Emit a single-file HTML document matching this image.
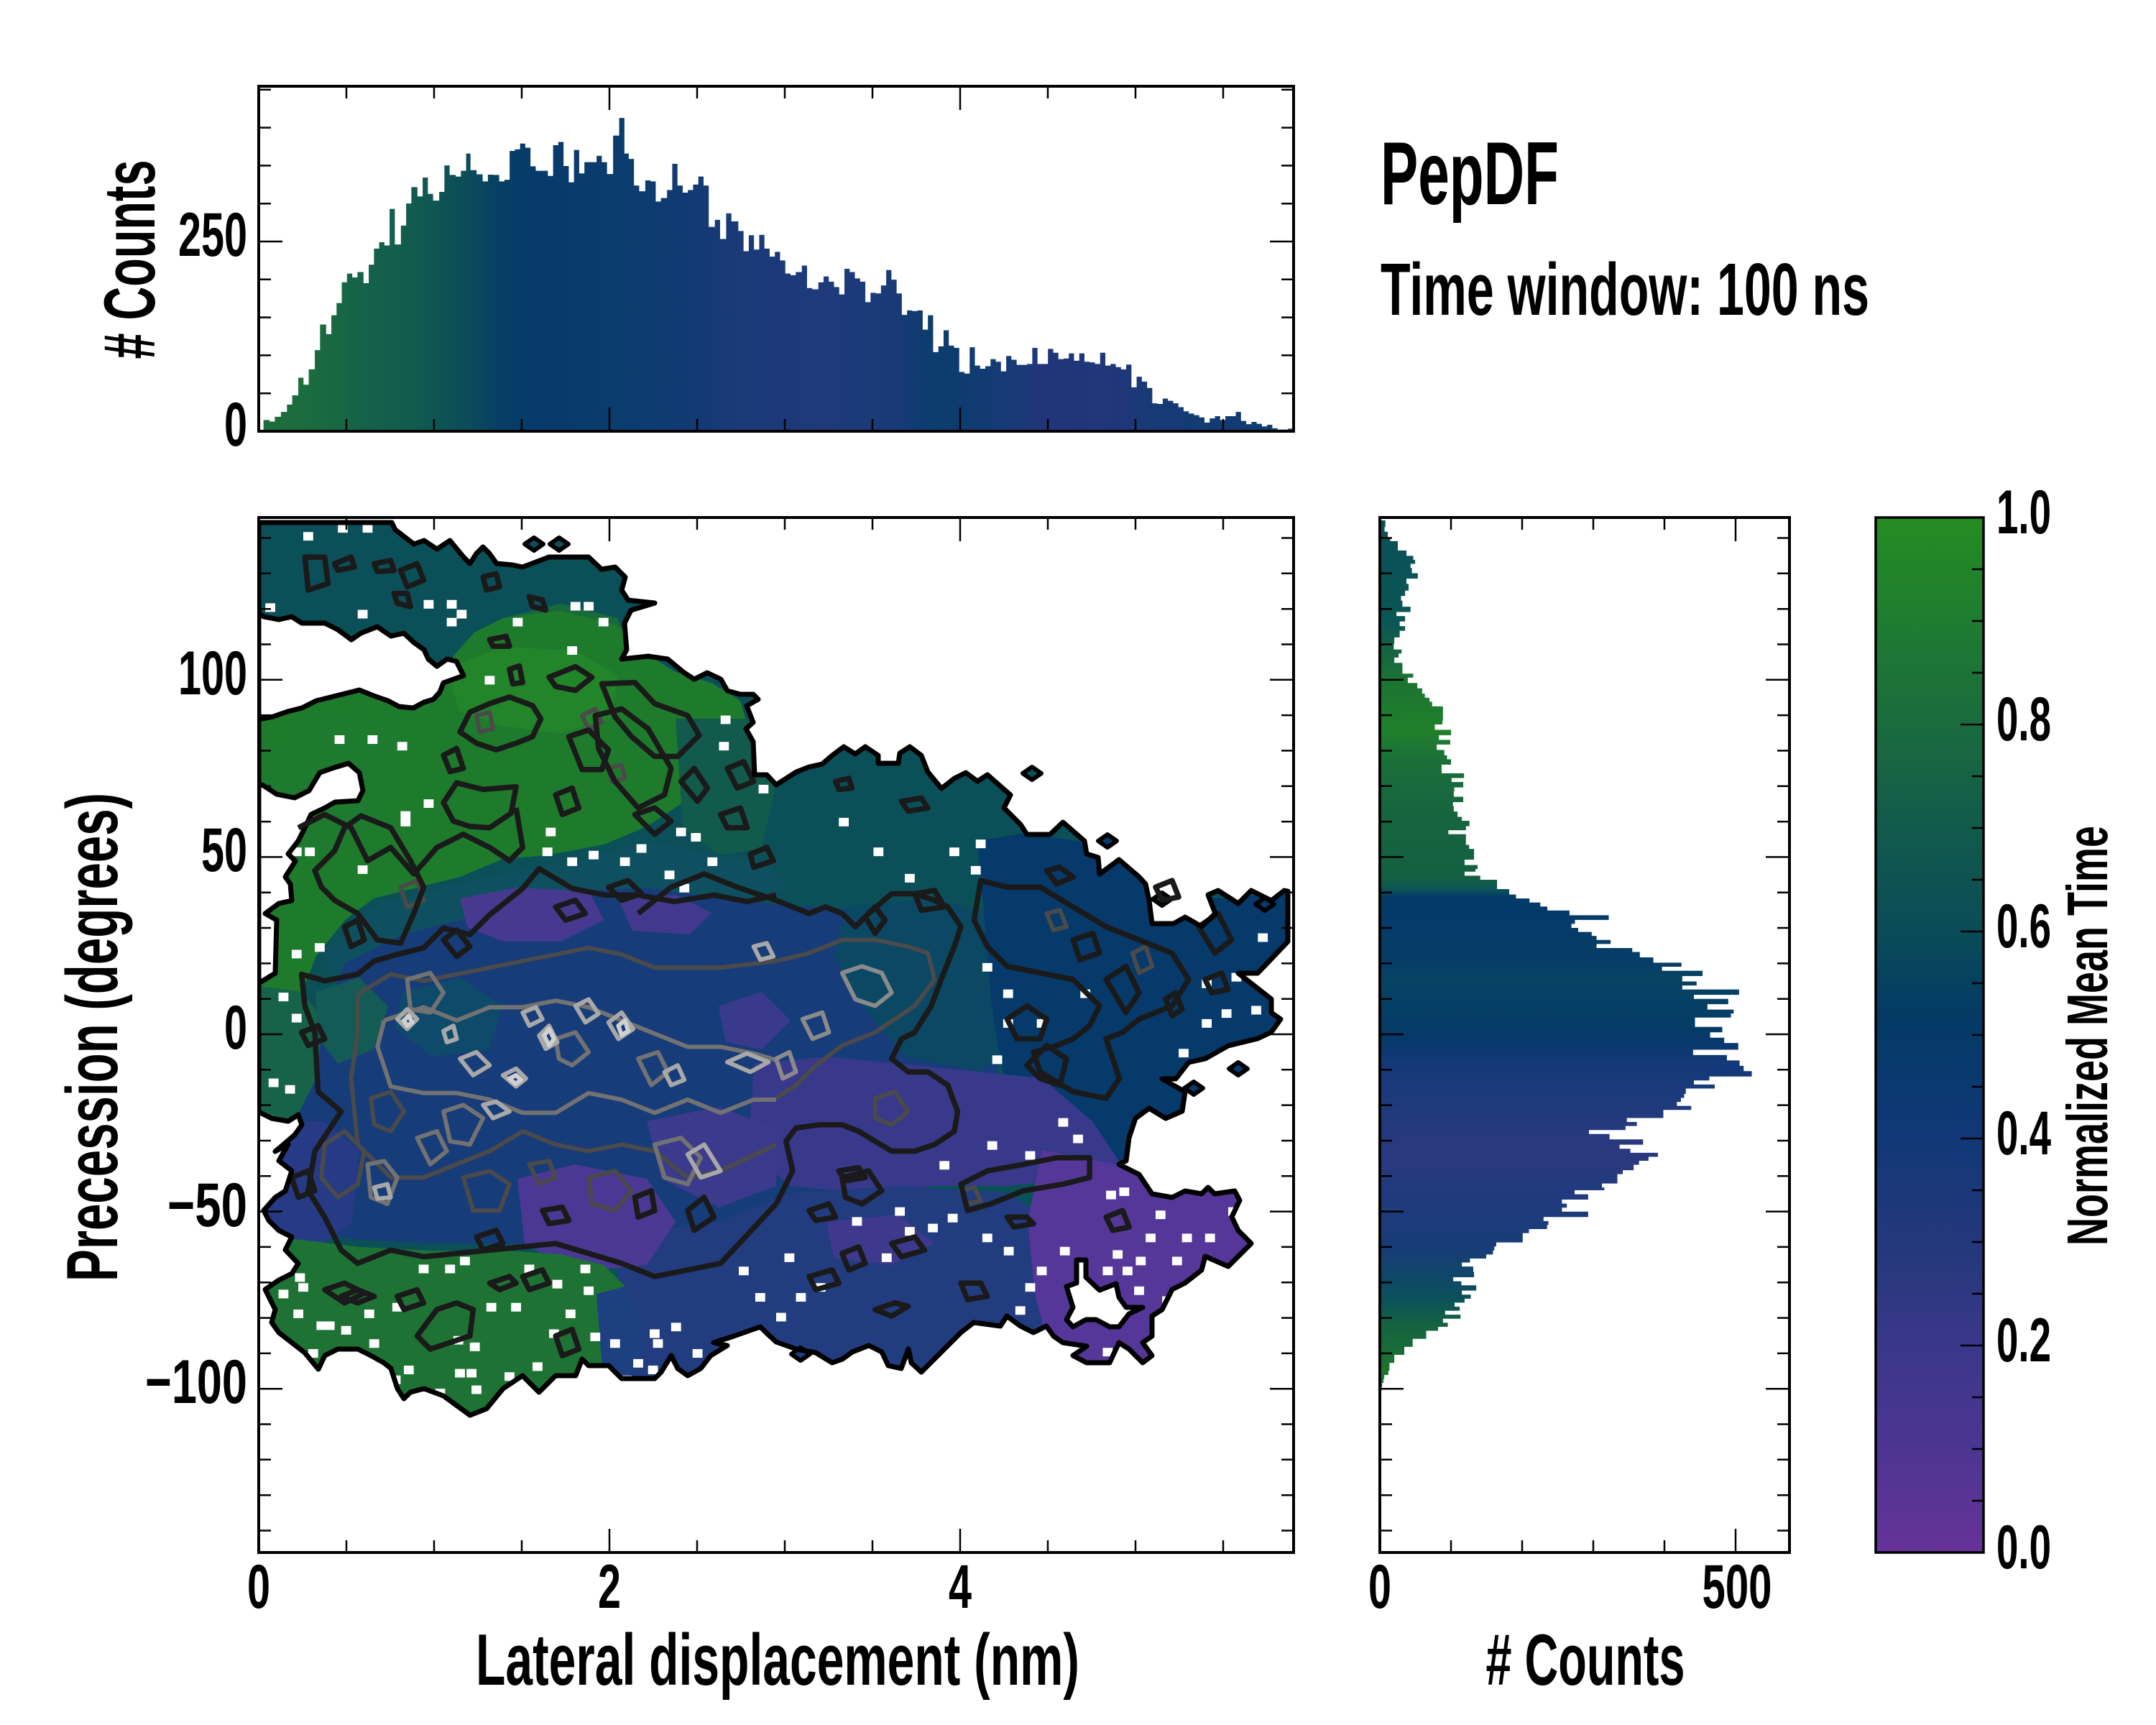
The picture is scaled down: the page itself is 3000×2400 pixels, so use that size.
<!DOCTYPE html>
<html><head><meta charset="utf-8">
<style>
html,body{margin:0;padding:0;background:#fff;}
svg{display:block;}
text{font-family:"Liberation Sans Narrow","Liberation Sans","DejaVu Sans",sans-serif;font-weight:bold;fill:#000;}
.c path{vector-effect:non-scaling-stroke;fill:none;stroke-linejoin:round;}
</style></head><body>
<svg xmlns="http://www.w3.org/2000/svg" width="3000" height="2400" viewBox="0 0 3000 2400">
<defs>
<linearGradient id="gTop" gradientUnits="userSpaceOnUse" x1="297" y1="0" x2="1487" y2="0">
<stop offset="0" stop-color="#1e6e3b"/><stop offset="0.053" stop-color="#1a6b3e"/><stop offset="0.103" stop-color="#15624a"/>
<stop offset="0.154" stop-color="#115a4f"/><stop offset="0.196" stop-color="#0c4e58"/><stop offset="0.234" stop-color="#063f66"/>
<stop offset="0.271" stop-color="#073a6b"/><stop offset="0.355" stop-color="#0b3c6e"/><stop offset="0.423" stop-color="#123a73"/>
<stop offset="0.465" stop-color="#1a3a78"/><stop offset="0.549" stop-color="#1e3a7b"/><stop offset="0.616" stop-color="#183a76"/>
<stop offset="0.65" stop-color="#0b3d6d"/><stop offset="0.683" stop-color="#0f3c70"/><stop offset="0.725" stop-color="#173a76"/>
<stop offset="0.759" stop-color="#213679"/><stop offset="0.834" stop-color="#1f377a"/><stop offset="0.86" stop-color="#173a75"/>
<stop offset="0.927" stop-color="#133b72"/><stop offset="1" stop-color="#0d3c70"/>
</linearGradient>
<linearGradient id="gRight" gradientUnits="userSpaceOnUse" x1="0" y1="15" x2="0" y2="1316">
<stop offset="0" stop-color="#0a4f58"/><stop offset="0.119" stop-color="#0b5656"/><stop offset="0.142" stop-color="#136046"/>
<stop offset="0.188" stop-color="#1c7532"/><stop offset="0.242" stop-color="#207f2b"/><stop offset="0.28" stop-color="#1a6e3a"/>
<stop offset="0.334" stop-color="#17653f"/><stop offset="0.411" stop-color="#146042"/><stop offset="0.423" stop-color="#0c5556"/>
<stop offset="0.433" stop-color="#043a68"/><stop offset="0.503" stop-color="#053c68"/><stop offset="0.527" stop-color="#074363"/>
<stop offset="0.573" stop-color="#053d66"/><stop offset="0.596" stop-color="#06396b"/><stop offset="0.626" stop-color="#14397a"/>
<stop offset="0.68" stop-color="#203a7c"/><stop offset="0.726" stop-color="#2c3880"/><stop offset="0.765" stop-color="#223a7e"/>
<stop offset="0.834" stop-color="#173c78"/><stop offset="0.872" stop-color="#0f4868"/><stop offset="0.895" stop-color="#0c515a"/>
<stop offset="0.926" stop-color="#156340"/><stop offset="0.972" stop-color="#1d7332"/><stop offset="1" stop-color="#1f7a2e"/>
</linearGradient>
<linearGradient id="gCb" x1="0" y1="0" x2="0" y2="1">
<stop offset="0" stop-color="#248c22"/><stop offset="0.1" stop-color="#1f7c30"/><stop offset="0.2" stop-color="#1a6b3e"/>
<stop offset="0.3" stop-color="#125a4c"/><stop offset="0.4" stop-color="#0a4c58"/><stop offset="0.484" stop-color="#033a66"/>
<stop offset="0.6" stop-color="#113878"/><stop offset="0.72" stop-color="#27387c"/><stop offset="0.8" stop-color="#3a378a"/>
<stop offset="0.9" stop-color="#4d3592"/><stop offset="1" stop-color="#66329a"/>
</linearGradient>
<clipPath id="axClip"><rect x="360" y="720" width="1440" height="1440"/></clipPath>
<clipPath id="shapeClip"><polygon id="outlineP" points="360,727 545,727 550,737 576,757 590,752 608,764 626,752 645,775 654,784 663,770 672,761 681,770 691,784 713,786 727,789 764,775 819,775 837,792 856,789 870,803 865,821 874,835 911,839 878,849 869,867 872,904 865,917 902,913 929,917 952,936 966,945 984,936 1003,945 1012,961 1030,966 1048,966 1055,973 1039,982 1048,1005 1038,1014 1048,1032 1050,1078 1067,1078 1080,1092 1094,1083 1108,1074 1126,1067 1144,1063 1158,1051 1174,1039 1190,1049 1204,1039 1222,1051 1222,1062 1250,1062 1252,1048 1266,1039 1282,1051 1291,1074 1310,1097 1328,1083 1344,1075 1360,1087 1374,1078 1406,1106 1397,1124 1420,1147 1429,1161 1461,1161 1479,1144 1509,1170 1512,1188 1528,1193 1530,1216 1557,1196 1585,1220 1594,1230 1599,1253 1603,1285 1633,1285 1649,1276 1672,1289 1691,1271 1681,1245 1695,1239 1723,1257 1741,1239 1769,1253 1787,1239 1792,1240 1792,1310 1750,1354 1723,1354 1769,1390 1769,1409 1782,1418 1769,1436 1750,1445 1709,1455 1677,1473 1654,1478 1636,1501 1617,1501 1649,1519 1645,1546 1622,1556 1599,1542 1580,1556 1571,1583 1567,1615 1557,1620 1585,1634 1603,1661 1631,1666 1649,1657 1672,1661 1681,1652 1690,1661 1718,1657 1725,1670 1714,1693 1723,1712 1741,1730 1727,1744 1709,1762 1677,1748 1672,1767 1649,1785 1631,1794 1617,1822 1603,1831 1603,1859 1590,1868 1603,1886 1590,1896 1571,1877 1557,1868 1544,1896 1512,1896 1493,1886 1512,1873 1479,1868 1466,1859 1456,1845 1438,1854 1420,1845 1401,1831 1392,1845 1355,1840 1337,1854 1319,1872 1300,1891 1282,1909 1268,1896 1264,1877 1254,1904 1236,1900 1227,1881 1209,1872 1186,1881 1172,1891 1158,1896 1135,1882 1108,1877 1080,1867 1067,1855 1058,1846 1021,1859 993,1868 1012,1872 989,1886 975,1904 957,1914 943,1904 934,1886 920,1909 911,1918 865,1918 847,1900 819,1900 810,1891 801,1914 773,1914 750,1937 727,1914 700,1932 677,1960 654,1969 617,1942 590,1932 571,1937 562,1946 553,1932 544,1904 534,1896 516,1886 498,1877 470,1877 452,1886 443,1905 424,1882 406,1868 388,1854 378,1840 383,1822 369,1794 388,1781 406,1772 415,1758 397,1739 406,1721 388,1712 374,1698 367,1684 383,1666 397,1657 406,1629 388,1615 401,1592 383,1602 410,1579 420,1565 415,1551 401,1560 378,1556 360,1547"/></clipPath>
</defs>

<rect x="0" y="0" width="3000" height="2400" fill="#fff"/>

<!-- ===== TOP HISTOGRAM ===== -->
<g transform="matrix(1.2101 0 0 0.4456 0 0.58)">
<path fill="url(#gTop)" d="M297 1345 H303 V1310 H310 V1315 H316 V1300 H323 V1285 H330 V1262 H336 V1233 H343 V1178 H349 V1200 H355 V1152 H362 V1092 H368 V1012 H375 V1042 H381 V983 H387 V945 H393 V880 H399 V853 H405 V865 H411 V848 H418 V883 H424 V825 H430 V775 H436 V755 H442 V765 H448 V651 H454 V762 H461 V703 H467 V634 H473 V583 H480 V612 H486 V553 H492 V604 H498 V625 H505 V598 H511 V515 H517 V545 H524 V550 H530 V532 H536 V478 H541 V530 H548 V543 H555 V565 H561 V544 H567 V545 H574 V565 H580 V560 H586 V470 H592 V465 H598 V447 H604 V460 H610 V518 H616 V532 H622 V532 H630 V548 H636 V452 H642 V442 H648 V517 H654 V568 H660 V467 H666 V540 H672 V505 H678 V505 H686 V485 H692 V505 H698 V542 H705 V422 H712 V367 H718 V478 H723 V495 H729 V578 H735 V596 H742 V562 H748 V565 H754 V628 H760 V617 H767 V592 H773 V510 H779 V578 H785 V600 H791 V592 H797 V575 H803 V550 H809 V578 H815 V707 H822 V685 H828 V745 H835 V665 H841 V690 H849 V720 H855 V783 H861 V733 H867 V778 H873 V732 H879 V775 H885 V800 H891 V785 H897 V812 H903 V853 H909 V858 H915 V848 H922 V828 H928 V898 H934 V902 H941 V880 H947 V862 H953 V878 H959 V895 H965 V918 H971 V838 H977 V848 H983 V868 H989 V878 H995 V942 H1001 V913 H1007 V915 H1013 V890 H1019 V842 H1025 V872 H1031 V915 H1037 V982 H1043 V968 H1049 V970 H1055 V968 H1061 V1028 H1067 V983 H1073 V1098 H1079 V1080 H1085 V1030 H1091 V1078 H1097 V1085 H1103 V1160 H1109 V1165 H1115 V1083 H1121 V1140 H1127 V1150 H1133 V1142 H1139 V1120 H1145 V1128 H1151 V1158 H1157 V1110 H1163 V1122 H1169 V1138 H1175 V1138 H1181 V1135 H1187 V1085 H1193 V1135 H1199 V1135 H1205 V1088 H1211 V1100 H1217 V1120 H1223 V1118 H1229 V1102 H1235 V1125 H1241 V1102 H1247 V1128 H1253 V1130 H1259 V1135 H1265 V1100 H1271 V1140 H1277 V1135 H1283 V1145 H1289 V1152 H1295 V1137 H1301 V1208 H1307 V1175 H1313 V1190 H1319 V1210 H1325 V1258 H1331 V1260 H1337 V1243 H1343 V1250 H1349 V1258 H1355 V1270 H1361 V1283 H1367 V1290 H1373 V1295 H1379 V1302 H1385 V1318 H1391 V1305 H1397 V1298 H1403 V1310 H1409 V1298 H1415 V1298 H1421 V1285 H1427 V1313 H1433 V1323 H1439 V1316 H1445 V1322 H1451 V1330 H1457 V1325 H1463 V1336 H1469 V1340 H1475 V1340 H1481 V1337 H1487 V1345 Z"/>
</g>

<!-- ===== RIGHT HISTOGRAM ===== -->
<g transform="matrix(0.37628 0 0 0.9311 1910 710)">
<path fill="url(#gRight)" d="M27 15 H47 V25 H44 V32 H56 V40 H65 V46 H93 V52 H93 V60 H125 V68 H150 V74 H157 V80 H140 V86 H145 V94 H167 V102 H125 V110 H133 V120 H120 V128 H105 V135 H110 V144 H140 V152 H88 V158 H120 V166 H100 V173 H120 V180 H100 V190 H80 V200 H78 V208 H107 V214 H96 V220 H80 V228 H110 V236 H110 V244 H150 V250 H130 V258 H165 V266 H183 V274 H193 V280 H210 V286 H220 V293 H260 V300 H260 V308 H260 V314 H258 V320 H230 V328 H290 V336 H245 V343 H287 V350 H237 V358 H265 V366 H275 V372 H290 V380 H255 V388 H255 V393 H338 V400 H292 V406 H335 V414 H302 V420 H300 V428 H335 V436 H297 V442 H300 V450 H314 V458 H330 V464 H358 V472 H345 V478 H280 V484 H345 V492 H345 V500 H357 V506 H375 V514 H375 V522 H340 V530 H388 V536 H380 V540 H340 V546 H398 V552 H460 V560 H460 V566 H505 V574 H530 V580 H580 V586 H620 V592 H646 V598 H728 V605 H873 V612 H748 V618 H735 V624 H760 V630 H810 V636 H828 V642 H880 V648 H828 V654 H960 V660 H988 V668 H1038 V676 H1142 V682 H1070 V688 H1220 V696 H1145 V704 H1198 V710 H1145 V716 H1355 V724 H1188 V730 H1315 V738 H1238 V746 H1335 V752 H1325 V758 H1192 V766 H1192 V772 H1293 V780 H1248 V788 H1300 V796 H1352 V806 H1185 V814 H1310 V822 H1357 V830 H1372 V838 H1402 V846 H1245 V852 H1188 V858 H1265 V864 H1158 V872 H1152 V878 H1140 V884 H1125 V890 H1178 V896 H1075 V904 H1075 V908 H940 V914 H977 V920 H935 V926 H800 V932 H876 V940 H1000 V948 H913 V954 H953 V960 H1055 V966 H1020 V972 H985 V978 H965 V986 H925 V992 H905 V1000 H905 V1006 H848 V1012 H857 V1016 H747 V1022 H797 V1030 H700 V1036 H718 V1042 H700 V1048 H797 V1056 H632 V1062 H650 V1068 H645 V1074 H578 V1080 H555 V1088 H555 V1094 H457 V1100 H450 V1106 H445 V1112 H420 V1118 H360 V1124 H330 V1130 H372 V1138 H375 V1146 H298 V1152 H328 V1158 H383 V1166 H330 V1172 H363 V1178 H340 V1184 H303 V1190 H322 V1196 H268 V1202 H325 V1208 H260 V1214 H278 V1220 H242 V1226 H198 V1232 H198 V1238 H148 V1244 H148 V1250 H117 V1256 H117 V1262 H80 V1268 H80 V1274 H62 V1280 H62 V1286 H58 V1292 H43 V1298 H40 V1304 H35 V1310 H33 V1316 H27 Z"/>
</g>

<!-- ===== MAIN HEATMAP ===== -->
<g clip-path="url(#axClip)">
<g clip-path="url(#shapeClip)">
<rect x="350" y="710" width="1460" height="1460" fill="#0b5058"/>
<polygon fill="#176a3a" points="700,860 780,840 860,860 880,930 800,930 720,925"/>
<polygon fill="#1f7b2c" points="700,860 780,850 860,870 900,910 940,935 990,950 1030,975 1040,1010 1020,1060 960,1110 900,1150 840,1175 760,1190 700,1195 640,1220 580,1235 520,1250 480,1280 440,1330 420,1380 380,1420 350,1420 350,960 450,960 560,950 620,925 660,880"/>
<polygon fill="#22852a" points="620,930 700,900 800,905 860,940 850,1000 780,1020 700,1010 640,990"/>
<polygon fill="#1d7a2f" points="370,1080 420,1000 500,985 560,1000 560,1100 500,1160 430,1200 380,1220"/>
<polygon fill="#125a4c" points="940,1000 1040,1000 1080,1090 1060,1180 1000,1190 950,1150"/>
<polygon fill="#0f5060" points="450,1330 520,1260 600,1240 700,1215 800,1200 900,1170 1000,1190 1060,1200 1100,1240 1000,1260 900,1260 800,1270 700,1280 600,1300 520,1330 470,1380"/>
<polygon fill="#173c7a" points="480,1340 560,1300 640,1280 720,1260 800,1240 900,1235 1000,1250 1100,1260 1200,1265 1300,1262 1360,1330 1380,1420 1390,1500 1360,1570 1300,1620 1200,1660 1100,1700 1000,1735 900,1740 800,1735 700,1730 600,1730 500,1725 420,1715 375,1690 370,1620 400,1560 440,1480 455,1400"/>
<polygon fill="#0e4a6a" points="560,1380 640,1360 700,1400 680,1460 600,1470 550,1430"/>
<polygon fill="#17634a" points="350,1370 420,1380 450,1420 440,1500 410,1560 350,1560"/>
<polygon fill="#145a55" points="440,1380 500,1360 540,1400 520,1460 470,1480 440,1440"/>
<polygon fill="#0a4864" points="1180,1260 1300,1250 1380,1270 1420,1350 1420,1460 1360,1490 1260,1470 1200,1400 1160,1330"/>
<polygon fill="#053a6b" points="1360,1170 1420,1160 1500,1170 1560,1200 1600,1240 1700,1250 1810,1240 1810,1600 1560,1620 1440,1580 1400,1520 1380,1400 1370,1280"/>
<polygon fill="#38398a" points="1050,1480 1150,1470 1250,1480 1350,1490 1450,1500 1520,1560 1560,1620 1500,1640 1400,1650 1300,1650 1200,1660 1100,1650 1040,1600"/>
<polygon fill="#223c80" points="860,1720 1000,1700 1100,1660 1250,1650 1400,1660 1470,1700 1480,1800 1460,1930 860,1930"/>
<polygon fill="#553799" points="1450,1600 1550,1620 1620,1640 1720,1650 1745,1720 1720,1780 1650,1800 1620,1880 1560,1915 1470,1915 1440,1800 1430,1700"/>
<polygon fill="#46398f" points="640,1250 720,1235 820,1240 840,1280 780,1310 700,1310 650,1290"/>
<polygon fill="#4a3894" points="720,1640 800,1620 900,1640 940,1700 900,1760 800,1770 730,1730"/>
<polygon fill="#3c3a8c" points="900,1560 1000,1540 1080,1570 1080,1650 1000,1680 920,1640"/>
<polygon fill="#3e398d" points="1150,1700 1250,1690 1300,1730 1240,1760 1160,1750"/>
<polygon fill="#3a3a8c" points="1000,1400 1060,1380 1100,1420 1060,1460 1010,1450"/>
<polygon fill="#42398e" points="860,1250 940,1245 990,1270 960,1300 880,1295"/>
<polygon fill="#273a85" points="370,1560 450,1560 500,1600 490,1700 450,1730 370,1720"/>
<polygon fill="#1e7334" points="350,1720 420,1725 500,1735 600,1740 700,1740 780,1745 840,1760 870,1790 860,1830 870,1935 700,1995 350,1995"/>
<polygon fill="#1c4080" points="830,1800 870,1790 900,1850 880,1930 840,1930"/>
<!-- white cells (zoom-7 space) -->
<g transform="matrix(0.4591 0 0 0.9183 360 720)" fill="#fff">
<path d="M135 22h30v13h-30z M315 10h30v13h-30z M500 125h30v13h-30z M570 125h30v13h-30z M600 140h30v13h-30z M570 152h30v13h-30z M300 140h30v13h-30z M485 245h30v13h-30z M685 240h30v13h-30z M770 152h30v13h-30z M500 427h30v13h-30z M430 455h30v13h-30z M870 470h30v13h-30z M935 515h30v13h-30z M1000 505h30v13h-30z M1145 495h30v13h-30z M1095 515h30v13h-30z M1230 535h30v13h-30z M1275 555h30v13h-30z M1360 515h30v13h-30z M1310 478h30v13h-30z M1265 470h30v13h-30z M1395 340h30v13h-30z M1515 405h30v13h-30z M935 195h30v13h-30z M1030 152h30v13h-30z M985 128h30v13h-30z M945 128h30v13h-30z M120 1160h30v13h-30z M175 1218h30v13h-30z M200 1218h30v13h-30z M105 1200h30v13h-30z M335 1245h30v13h-30z M405 1190h30v13h-30z M485 1132h30v13h-30z M565 1132h30v13h-30z M690 1190h30v13h-30z M765 1190h30v13h-30z M805 1132h30v13h-30z M890 1155h30v13h-30z M975 1132h30v13h-30z M1065 1245h30v13h-30z M1135 1275h30v13h-30z M1195 1245h30v13h-30z M1315 1260h30v13h-30z M1505 1175h30v13h-30z M1455 1135h30v13h-30z M1250 1220h30v13h-30z M1185 1230h30v13h-30z M1005 1235h30v13h-30z M985 1165h30v13h-30z M630 1290h30v13h-30z M595 1290h30v13h-30z M645 1315h30v13h-30z M535 1320h30v13h-30z M745 1295h30v13h-30z M100 655h30v13h-30z M170 645h30v13h-30z M300 527h30v13h-30z M165 220h30v13h-30z M420 340h30v13h-30z M430 445h30v13h-30z M100 500h30v13h-30z M140 500h30v13h-30z M60 720h30v13h-30z M100 752h30v13h-30z M80 860h30v13h-30z M30 850h30v13h-30z M250 1225h30v13h-30z M320 1200h30v13h-30z M640 1250h30v13h-30z M440 1285h30v13h-30z M400 1300h30v13h-30z M20 130h30v13h-30z M240 10h30v13h-30z M610 1120h30v13h-30z M880 1230h30v13h-30z M930 1200h30v13h-30z M1100 1300h30v13h-30z M1180 1285h30v13h-30z M830 1280h30v13h-30z M590 1240h30v13h-30z M60 1170h30v13h-30z M110 1145h30v13h-30z M150 1260h30v13h-30z M230 330h30v13h-30z M330 330h30v13h-30z M1400 300h30v13h-30z M860 500h30v13h-30z"/>
</g>
<g transform="matrix(0.4591 0 0 0.9183 1080 720)" fill="#fff">
<path d="M190 455h30v13h-30z M295 500h30v13h-30z M390 540h30v13h-30z M525 500h30v13h-30z M605 488h30v13h-30z M590 528h30v13h-30z M625 675h30v13h-30z M688 715h30v13h-30z M688 760h30v13h-30z M790 760h30v13h-30z M922 715h30v13h-30z M1460 630h30v13h-30z M1440 740h30v13h-30z M1290 700h30v13h-30z M1290 760h30v13h-30z M1350 745h30v13h-30z M1380 690h30v13h-30z M1220 805h30v13h-30z M1150 1050h30v13h-30z M1120 1085h30v13h-30z M1020 1110h30v13h-30z M990 1135h30v13h-30z M1050 1135h30v13h-30z M1090 1120h30v13h-30z M790 1135h30v13h-30z M755 1160h30v13h-30z M725 1195h30v13h-30z M690 1105h30v13h-30z M625 1085h30v13h-30z M520 1055h30v13h-30z M460 1070h30v13h-30z M390 1075h30v13h-30z M360 1045h30v13h-30z M320 1115h30v13h-30z M230 1060h30v13h-30z M120 1160h30v13h-30z M60 1175h30v13h-30z M25 1115h30v13h-30z M0 1205h30v13h-30z M640 945h30v13h-30z M755 960h30v13h-30z M495 975h30v13h-30z M655 815h30v13h-30z M1155 1260h30v13h-30z M990 1258h30v13h-30z M1040 1015h30v13h-30z M1230 1085h30v13h-30z M1300 1085h30v13h-30z M1370 1045h30v13h-30z M1000 1020h30v13h-30z M1085 1165h30v13h-30z M860 1105h30v13h-30z M900 935h30v13h-30z M855 910h30v13h-30z M1200 1120h30v13h-30z M1270 1150h30v13h-30z M1170 1180h30v13h-30z M960 1190h30v13h-30z"/>
</g>
</g>

<!-- white gaps -->
<g fill="#fff" stroke="#000" stroke-width="7" stroke-linejoin="round">
<polygon points="350,845 367,858 388,862 406,858 420,867 452,867 470,876 489,890 502,881 525,872 544,885 562,881 576,894 590,904 596,917 608,927 622,917 635,920 645,940 617,950 612,963 603,973 590,977 575,985 555,983 540,975 520,968 500,960 480,965 460,970 440,975 420,985 400,990 380,997 365,1000 350,1000"/>
<polygon points="350,1095 365,1092 385,1105 410,1110 430,1100 445,1075 465,1068 485,1062 500,1075 505,1100 498,1114 466,1116 452,1124 433,1133 424,1152 415,1170 401,1188 411,1198 397,1220 404,1230 406,1253 388,1257 369,1271 385,1280 383,1354 360,1368 350,1368"/>
<polygon points="1484,1790 1498,1785 1498,1753 1511,1753 1511,1777 1530,1795 1553,1786 1557,1805 1567,1819 1590,1819 1571,1828 1557,1846 1544,1846 1525,1836 1511,1836 1493,1846 1484,1836 1493,1819"/>
</g>

<!-- isolated cells -->
<g stroke="#000" stroke-width="6" stroke-linejoin="round">
<polygon fill="#0b5058" points="730,757 743,748 756,757 743,766"/>
<polygon fill="#0b5058" points="765,757 778,748 791,757 778,766"/>
<polygon fill="#0b5058" points="1423,1076 1436,1067 1449,1076 1436,1085"/>
<polygon fill="#053a6b" points="1528,1170 1541,1161 1554,1170 1541,1179"/>
<polygon fill="#0b4f60" points="1604,1251 1617,1242 1630,1251 1617,1260"/>
<polygon fill="#053a6b" points="1710,1487 1723,1478 1736,1487 1723,1496"/>
<polygon fill="#053a6b" points="1648,1514 1661,1505 1674,1514 1661,1523"/>
<polygon fill="#1c3d80" points="1101,1884 1114,1875 1127,1884 1114,1893"/>
<polygon fill="#053a6b" points="1747,1258 1760,1249 1773,1258 1760,1267"/>
</g>

<!-- contours zoom7 space -->
<g class="c" transform="matrix(0.4591 0 0 0.9183 360 720)">
<g stroke="#4a4a4a" stroke-width="6">
<path d="M300,722 L400,692 L500,702 L600,692 L700,682 L800,672 L900,662 L1000,652 L1100,662 L1200,682 L1300,682 L1400,682 L1568,672"/>
<path d="M1568,950 L1400,990 L1300,1000 L1200,960 L1100,950 L1000,960 L900,950 L800,930 L700,960 L600,980 L500,1000 L400,1000 L300,950 L280,850 L300,780 L300,722"/>
<path d="M200,950 L260,930 L320,960 L300,1010 L240,1030 L190,1000 Z"/>
<path d="M620,1000 L700,990 L760,1010 L730,1050 L650,1050 Z"/>
<path d="M1000,1000 L1080,990 L1130,1020 L1080,1050 L1010,1040 Z"/>
<path d="M430,560 L480,550 L500,580 L450,590 Z"/>
<path d="M660,300 L700,295 L710,320 L670,325 Z"/>
<path d="M980,300 L1020,290 L1040,310 L1000,320 Z"/>
<path d="M1060,380 L1100,375 L1110,395 L1070,400 Z"/>
<path d="M340,880 L400,870 L440,900 L400,930 L350,920 Z"/>
<path d="M820,980 L880,975 L900,1000 L850,1010 Z"/>
</g>
<g stroke="#727272" stroke-width="6">
<path d="M380,762 L500,742 L600,762 L700,742 L800,742 L900,732 L1000,742 L1100,762 L1200,782 L1300,802 L1400,802 L1500,812 L1568,822"/>
<path d="M1568,882 L1500,882 L1400,902 L1300,882 L1200,902 L1100,882 L1000,872 L900,902 L800,902 L700,882 L600,872 L500,872 L400,862 L360,802 L380,762"/>
<path d="M560,900 L620,890 L680,910 L640,950 L580,945 Z"/>
<path d="M1200,950 L1280,940 L1340,970 L1300,1010 L1230,1000 Z"/>
<path d="M330,980 L380,975 L420,1000 L390,1040 L340,1030 Z"/>
<path d="M450,700 L520,690 L560,720 L520,750 L460,745 Z"/>
<path d="M900,790 L960,780 L1000,810 L950,830 L910,820 Z"/>
<path d="M1150,820 L1210,810 L1240,840 L1190,860 Z"/>
<path d="M480,940 L540,930 L570,960 L520,980 Z"/>
</g>
<g stroke="#a8a8a8" stroke-width="6">
<path d="M420,760 L450,745 L480,760 L450,775 Z"/>
<path d="M560,778 L590,770 L600,790 L570,795 Z"/>
<path d="M740,845 L780,835 L810,850 L780,862 Z"/>
<path d="M850,785 L880,770 L905,795 L870,805 Z"/>
<path d="M960,740 L1000,730 L1030,752 L990,765 Z"/>
<path d="M1060,765 L1100,750 L1135,775 L1090,790 Z"/>
<path d="M1230,840 L1270,830 L1290,852 L1250,860 Z"/>
<path d="M1420,825 L1480,812 L1545,825 L1490,840 Z"/>
<path d="M1300,965 L1350,950 L1400,990 L1340,1000 Z"/>
<path d="M350,1015 L390,1010 L400,1030 L360,1032 Z"/>
<path d="M680,890 L720,885 L760,900 L710,910 Z"/>
<path d="M610,820 L660,810 L700,830 L650,845 Z"/>
<path d="M800,750 L840,742 L860,760 L820,770 Z"/>
<path d="M1500,650 L1540,645 L1560,665 L1520,670 Z"/>
</g>
<g stroke="#d0d0d0" stroke-width="6">
<path d="M865,785 L880,775 L895,790 L880,800 Z"/>
<path d="M760,850 L780,845 L795,852 L778,858 Z"/>
<path d="M440,762 L455,755 L465,765 L450,770 Z"/>
<path d="M1090,770 L1110,762 L1120,778 L1100,784 Z"/>
</g>
<g stroke="#1a1a1a" stroke-width="7.5">
<path d="M610,325 L640,295 L700,282 L760,272 L830,285 L855,305 L830,332 L780,342 L720,352 L660,342 Z"/>
<path d="M880,242 L960,226 L1010,242 L960,262 L900,256 Z"/>
<path d="M560,432 L600,402 L680,412 L780,408 L765,448 L700,470 L640,468 L590,460 Z"/>
<path d="M170,535 L230,505 L260,470 L310,452 L400,470 L460,520 L500,560 L470,600 L430,645 L360,640 L300,600 L230,580 L190,560 Z"/>
<path d="M1040,252 L1140,250 L1200,282 L1300,300 L1335,330 L1270,362 L1200,362 L1130,332 L1080,302 Z"/>
<path d="M940,332 L1000,322 L1060,352 L1040,382 L980,382 Z"/>
<path d="M1568,572 L1480,582 L1380,572 L1260,582 L1150,572 L1050,572 L950,562 L850,532 L800,562 L700,602 L640,632 L560,622 L500,652 L420,662 L350,672 L300,692 L200,702 L130,692 L140,740 L170,780 L180,870 L250,900 L170,960 L150,1020 L200,1060 L250,1110 L300,1130 L400,1110 L500,1120 L700,1110 L900,1100 L1100,1130 L1200,1150 L1400,1130 L1568,1040"/>
<path d="M120,470 L200,450 L280,470 L330,520 L400,500 L470,540 L540,500 L620,480 L700,500 L760,520 L800,500 L780,440"/>
<path d="M1020,300 L1100,290 L1180,320 L1250,380 L1230,420 L1150,440 L1080,400 L1030,350 Z"/>
<path d="M1150,600 L1250,560 L1350,540 L1450,560 L1568,580"/>
<path d="M480,1240 L540,1200 L600,1190 L650,1200 L640,1240 L580,1250 L520,1260 Z"/>
<path d="M250,1180 L300,1170 L350,1180 L300,1190 Z"/>
<path d="M200,1170 L260,1160 L320,1175 L260,1190 Z"/>
<path d="M420,1180 L480,1170 L500,1190 L440,1200 Z"/>
<path d="M800,1150 L860,1140 L880,1160 L820,1170 Z"/>
<path d="M900,1240 L950,1230 L970,1260 L920,1270 Z"/>
<path d="M700,1160 L760,1150 L780,1160 L730,1170 Z"/>
<path d="M1140,450 L1200,440 L1250,460 L1200,480 Z"/>
<path d="M1400,450 L1460,440 L1480,470 L1420,470 Z"/>
<path d="M1490,510 L1540,500 L1560,520 L1500,530 Z"/>
<path d="M1300,1050 L1350,1030 L1380,1060 L1320,1080 Z"/>
<path d="M1140,1030 L1190,1020 L1200,1050 L1150,1060 Z"/>
<path d="M860,1050 L920,1045 L940,1065 L880,1070 Z"/>
<path d="M140,60 L200,60 L210,100 L150,110 Z"/>
<path d="M230,70 L280,60 L290,75 L240,80 Z"/>
<path d="M350,70 L400,65 L410,80 L360,82 Z"/>
<path d="M430,80 L480,70 L500,95 L450,105 Z"/>
<path d="M410,115 L450,115 L460,135 L420,130 Z"/>
<path d="M680,90 L720,85 L730,105 L690,110 Z"/>
<path d="M820,120 L860,125 L870,140 L830,135 Z"/>
<path d="M700,185 L750,180 L760,195 L710,195 Z"/>
<path d="M760,230 L790,225 L800,250 L770,252 Z"/>
<path d="M1280,400 L1320,380 L1360,410 L1330,430 Z"/>
<path d="M1060,560 L1120,550 L1160,570 L1100,580 Z"/>
<path d="M900,590 L960,580 L990,600 L930,610 Z"/>
<path d="M130,780 L180,770 L200,790 L150,800 Z"/>
<path d="M560,640 L600,625 L640,650 L600,665 Z"/>
<path d="M1420,380 L1470,370 L1500,400 L1450,410 Z"/>
<path d="M560,360 L600,350 L620,380 L580,385 Z"/>
<path d="M900,420 L950,410 L970,440 L920,450 Z"/>
<path d="M260,620 L300,610 L320,640 L280,650 Z"/>
<path d="M100,1000 L150,990 L170,1020 L120,1030 Z"/>
<path d="M660,1090 L720,1080 L740,1100 L680,1110 Z"/>
</g>
</g>

<!-- contours zoom8 space -->
<g class="c" transform="matrix(0.4591 0 0 0.9183 1080 720)">
<g stroke="#4a4a4a" stroke-width="6">
<path d="M0,672 L100,660 L200,640 L300,640 L400,650 L460,660 L480,700 L420,740 L300,780 L200,800 L120,830 L60,860 L0,880"/>
<path d="M300,880 L360,870 L400,900 L350,920 L300,910 Z"/>
<path d="M1080,660 L1120,650 L1140,680 L1100,690 Z"/>
<path d="M820,600 L860,595 L880,620 L840,625 Z"/>
<path d="M560,1020 L600,1015 L620,1035 L580,1040 Z"/>
</g>
<g stroke="#8a8a8a" stroke-width="6">
<path d="M200,690 L260,680 L320,690 L350,720 L300,740 L240,730 Z"/>
<path d="M0,820 L40,810 L60,840 L20,850 Z"/>
<path d="M80,760 L140,750 L160,780 L110,790 Z"/>
</g>
<g stroke="#1a1a1a" stroke-width="7.5">
<path d="M0,580 L50,590 L100,600 L150,590 L200,600 L240,620 L280,600 L350,570 L420,570 L480,580 L520,590 L560,620 L540,650 L500,700 L470,740 L420,780 L380,790 L350,820 L400,840 L460,840 L520,860 L550,900 L540,930 L480,950 L420,960 L350,960 L300,945 L250,930 L200,920 L130,920 L60,925 L30,945 L50,990 L0,1040"/>
<path d="M600,610 L620,550 L700,560 L800,560 L900,590 L1000,620 L1100,640 L1200,660 L1250,700 L1200,740 L1100,760 L1050,780 L1000,790 L1040,850 L1000,880 L900,870 L800,840 L780,810 L850,800 L900,790 L950,770 L980,740 L900,700 L800,690 L700,680 L640,650 Z"/>
<path d="M560,1010 L640,990 L750,980 L850,970 L950,970 L950,1000 L870,1010 L750,1020 L650,1040 L580,1050 Z"/>
<path d="M820,535 L860,530 L900,545 L850,555 Z"/>
<path d="M760,830 L820,800 L880,820 L860,860 L800,850 Z"/>
<path d="M200,1115 L250,1105 L270,1130 L220,1140 Z"/>
<path d="M300,1200 L360,1190 L400,1195 L350,1210 Z"/>
<path d="M560,1160 L620,1160 L640,1180 L580,1185 Z"/>
<path d="M420,570 L480,565 L510,590 L440,595 Z"/>
<path d="M270,605 L300,590 L330,610 L300,630 Z"/>
<path d="M180,400 L220,395 L230,410 L190,412 Z"/>
<path d="M1180,730 L1210,720 L1230,745 L1200,755 Z"/>
<path d="M100,1050 L160,1040 L180,1060 L120,1065 Z"/>
<path d="M190,990 L250,985 L270,1000 L210,1005 Z"/>
<path d="M700,1060 L760,1060 L780,1070 L720,1075 Z"/>
<path d="M380,430 L440,425 L460,440 L400,445 Z"/>
<path d="M700,760 L760,740 L820,760 L800,790 L730,790 Z"/>
<path d="M1000,700 L1060,680 L1100,720 L1060,750 Z"/>
<path d="M1280,620 L1340,600 L1380,640 L1330,660 Z"/>
<path d="M900,640 L960,630 L980,660 L920,670 Z"/>
<path d="M200,1000 L280,990 L320,1020 L260,1040 L210,1030 Z"/>
<path d="M350,1100 L420,1090 L450,1110 L380,1120 Z"/>
<path d="M100,1150 L170,1140 L190,1160 L120,1170 Z"/>
<path d="M1150,560 L1200,550 L1220,575 L1170,580 Z"/>
<path d="M1300,700 L1350,690 L1370,715 L1320,720 Z"/>
<path d="M1000,1060 L1050,1050 L1070,1075 L1020,1080 Z"/>
</g>
</g>

<!-- outer outline -->
<use href="#outlineP" fill="none" stroke="#000" stroke-width="7" stroke-linejoin="round"/>
</g>

<!-- ===== COLORBAR ===== -->
<rect x="2610" y="720" width="150" height="1440" fill="url(#gCb)"/>

<!-- ===== TICKS ===== -->
<g stroke="#000" stroke-width="2.5" fill="none">
<path d="M360 748.5h17M360 797.8h17M360 847.2h17M360 896.5h17M360 995.1h17M360 1044.4h17M360 1093.8h17M360 1143.1h17M360 1241.7h17M360 1291h17M360 1340.4h17M360 1389.7h17M360 1488.3h17M360 1537.6h17M360 1587h17M360 1636.3h17M360 1734.9h17M360 1784.2h17M360 1833.6h17M360 1882.9h17M360 1981.5h17M360 2030.8h17M360 2080.2h17M360 2129.5h17 M360 945.8h33M360 1192.4h33M360 1439h33M360 1685.6h33M360 1932.2h33"/>
<path d="M1800 748.5h-17M1800 797.8h-17M1800 847.2h-17M1800 896.5h-17M1800 995.1h-17M1800 1044.4h-17M1800 1093.8h-17M1800 1143.1h-17M1800 1241.7h-17M1800 1291h-17M1800 1340.4h-17M1800 1389.7h-17M1800 1488.3h-17M1800 1537.6h-17M1800 1587h-17M1800 1636.3h-17M1800 1734.9h-17M1800 1784.2h-17M1800 1833.6h-17M1800 1882.9h-17M1800 1981.5h-17M1800 2030.8h-17M1800 2080.2h-17M1800 2129.5h-17 M1800 945.8h-33M1800 1192.4h-33M1800 1439h-33M1800 1685.6h-33M1800 1932.2h-33"/>
<path d="M482 2160v-17M604 2160v-17M726 2160v-17M970 2160v-17M1092 2160v-17M1214 2160v-17M1458 2160v-17M1580 2160v-17M1702 2160v-17M848 2160v-33M1336 2160v-33"/>
<path d="M482 720v17M604 720v17M726 720v17M970 720v17M1092 720v17M1214 720v17M1458 720v17M1580 720v17M1702 720v17M848 720v33M1336 720v33"/>
<path d="M482 600v-17M604 600v-17M726 600v-17M970 600v-17M1092 600v-17M1214 600v-17M1458 600v-17M1580 600v-17M1702 600v-17M848 600v-33M1336 600v-33"/>
<path d="M482 120v17M604 120v17M726 120v17M970 120v17M1092 120v17M1214 120v17M1458 120v17M1580 120v17M1702 120v17M848 120v33M1336 120v33"/>
<path d="M360 547.2h17M360 494.4h17M360 441.6h17M360 388.8h17M360 283.2h17M360 230.4h17M360 177.6h17M360 124.8h17M360 336h33"/>
<path d="M1800 547.2h-17M1800 494.4h-17M1800 441.6h-17M1800 388.8h-17M1800 283.2h-17M1800 230.4h-17M1800 177.6h-17M1800 124.8h-17M1800 336h-33"/>
<path d="M1920 748.5h17M1920 797.8h17M1920 847.2h17M1920 896.5h17M1920 995.1h17M1920 1044.4h17M1920 1093.8h17M1920 1143.1h17M1920 1241.7h17M1920 1291h17M1920 1340.4h17M1920 1389.7h17M1920 1488.3h17M1920 1537.6h17M1920 1587h17M1920 1636.3h17M1920 1734.9h17M1920 1784.2h17M1920 1833.6h17M1920 1882.9h17M1920 1981.5h17M1920 2030.8h17M1920 2080.2h17M1920 2129.5h17 M1920 945.8h33M1920 1192.4h33M1920 1439h33M1920 1685.6h33M1920 1932.2h33"/>
<path d="M2490 748.5h-17M2490 797.8h-17M2490 847.2h-17M2490 896.5h-17M2490 995.1h-17M2490 1044.4h-17M2490 1093.8h-17M2490 1143.1h-17M2490 1241.7h-17M2490 1291h-17M2490 1340.4h-17M2490 1389.7h-17M2490 1488.3h-17M2490 1537.6h-17M2490 1587h-17M2490 1636.3h-17M2490 1734.9h-17M2490 1784.2h-17M2490 1833.6h-17M2490 1882.9h-17M2490 1981.5h-17M2490 2030.8h-17M2490 2080.2h-17M2490 2129.5h-17 M2490 945.8h-33M2490 1192.4h-33M2490 1439h-33M2490 1685.6h-33M2490 1932.2h-33"/>
<path d="M2019 2160v-17M2118 2160v-17M2217 2160v-17M2316 2160v-17M2415 2160v-33 M2019 720v17M2118 720v17M2217 720v17M2316 720v17M2415 720v33"/>
<path d="M2760 2088h-16M2760 2016h-16M2760 1944h-16M2760 1800h-16M2760 1728h-16M2760 1656h-16M2760 1512h-16M2760 1440h-16M2760 1368h-16M2760 1224h-16M2760 1152h-16M2760 1080h-16M2760 936h-16M2760 864h-16M2760 792h-16 M2760 1872h-32M2760 1584h-32M2760 1296h-32M2760 1008h-32"/>
</g>

<!-- ===== SPINES ===== -->
<g fill="none" stroke="#000" stroke-width="4">
<rect x="360" y="120" width="1440" height="480"/>
<rect x="360" y="720" width="1440" height="1440"/>
<rect x="1920" y="720" width="570" height="1440"/>
<rect x="2610" y="720" width="150" height="1440" stroke-width="3.5"/>
</g>

<!-- ===== TEXT ===== -->
<text x="1921" y="284" font-size="124" textLength="248" lengthAdjust="spacingAndGlyphs">PepDF</text>
<text x="1921" y="438" font-size="103" textLength="680" lengthAdjust="spacingAndGlyphs">Time window: 100 ns</text>

<text x="360" y="2237" font-size="86" text-anchor="middle" textLength="32" lengthAdjust="spacingAndGlyphs">0</text>
<text x="848" y="2237" font-size="86" text-anchor="middle" textLength="32" lengthAdjust="spacingAndGlyphs">2</text>
<text x="1336" y="2237" font-size="86" text-anchor="middle" textLength="32" lengthAdjust="spacingAndGlyphs">4</text>
<text x="344" y="966" font-size="86" text-anchor="end" textLength="96" lengthAdjust="spacingAndGlyphs">100</text>
<text x="344" y="1212" font-size="86" text-anchor="end" textLength="64" lengthAdjust="spacingAndGlyphs">50</text>
<text x="344" y="1459" font-size="86" text-anchor="end" textLength="32" lengthAdjust="spacingAndGlyphs">0</text>
<text x="344" y="1706" font-size="86" text-anchor="end" textLength="111" lengthAdjust="spacingAndGlyphs">−50</text>
<text x="344" y="1952" font-size="86" text-anchor="end" textLength="142" lengthAdjust="spacingAndGlyphs">−100</text>
<text x="344" y="356" font-size="86" text-anchor="end" textLength="96" lengthAdjust="spacingAndGlyphs">250</text>
<text x="344" y="620" font-size="86" text-anchor="end" textLength="32" lengthAdjust="spacingAndGlyphs">0</text>
<text x="1920" y="2237" font-size="86" text-anchor="middle" textLength="32" lengthAdjust="spacingAndGlyphs">0</text>
<text x="2417" y="2237" font-size="86" text-anchor="middle" textLength="97" lengthAdjust="spacingAndGlyphs">500</text>
<text x="2778" y="2182" font-size="86" textLength="76" lengthAdjust="spacingAndGlyphs">0.0</text>
<text x="2778" y="1894" font-size="86" textLength="76" lengthAdjust="spacingAndGlyphs">0.2</text>
<text x="2778" y="1606" font-size="86" textLength="76" lengthAdjust="spacingAndGlyphs">0.4</text>
<text x="2778" y="1318" font-size="86" textLength="76" lengthAdjust="spacingAndGlyphs">0.6</text>
<text x="2778" y="1030" font-size="86" textLength="76" lengthAdjust="spacingAndGlyphs">0.8</text>
<text x="2778" y="742" font-size="86" textLength="76" lengthAdjust="spacingAndGlyphs">1.0</text>

<text x="662" y="2344" font-size="101" textLength="840" lengthAdjust="spacingAndGlyphs">Lateral displacement (nm)</text>
<text x="2206" y="2344" font-size="101" text-anchor="middle" textLength="277" lengthAdjust="spacingAndGlyphs"># Counts</text>
<text transform="translate(163,1443) rotate(-90)" font-size="101" text-anchor="middle" textLength="680" lengthAdjust="spacingAndGlyphs">Precession (degrees)</text>
<text transform="translate(215,361) rotate(-90)" font-size="101" text-anchor="middle" textLength="277" lengthAdjust="spacingAndGlyphs"># Counts</text>
<text transform="translate(2932,1441) rotate(-90)" font-size="80" text-anchor="middle" textLength="584" lengthAdjust="spacingAndGlyphs">Normalized Mean Time</text>
</svg>
</body></html>
